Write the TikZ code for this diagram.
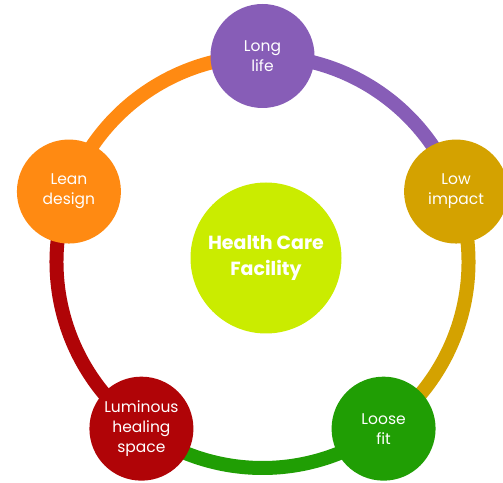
\documentclass[tikz,border=0pt]{standalone}
\usepackage{fontspec}
\setmainfont{Poppins}
\usetikzlibrary{backgrounds}
\definecolor{lifepurple}{HTML}{875DB7}
\definecolor{impactgold}{HTML}{D4A200}
\definecolor{fitgreen}{HTML}{209E04}
\definecolor{spacered}{HTML}{B00407}
\definecolor{leanorange}{HTML}{FF8A12}
\definecolor{hublime}{HTML}{CAEC00}

\begin{document}
\begin{tikzpicture}[x=1pt,y=1pt,
    petal/.style={circle,minimum size=104pt,inner sep=0pt,text=white,align=center,
      font=\fontsize{15.5}{20}\selectfont},
    ring/.style={line width=14pt}]
            \useasboundingbox (0,0) rectangle (503,482);
            \coordinate (C) at (262.5,220);
            \node[circle,fill=hublime,minimum size=151pt,inner sep=0pt,text=white,align=center,
              font=\bfseries\fontsize{19}{26}\selectfont] (hub) at (266,224) {Health Care\\Facility};
            \node[petal,fill=lifepurple] (life) at ([shift={(90:206)}]C) {Long\\life};
            \node[petal,fill=impactgold] (impact) at ([shift={(20:206)}]C) {Low\\impact};
            \node[petal,fill=fitgreen] (fit) at ([shift={(-54:206)}]C) {Loose\\fit};
            \node[petal,fill=spacered] (space) at ([shift={(234:206)}]C) {Luminous\\healing\\space};
            \node[petal,fill=leanorange] (lean) at ([shift={(160:206)}]C) {Lean\\design};
            \begin{scope}[on background layer]
                \draw[ring,lifepurple] (life.center) arc[start angle=90,end angle=20,radius=206];
                \draw[ring,impactgold] (impact.center) arc[start angle=20,end angle=-54,radius=206];
                \draw[ring,fitgreen] (fit.center) arc[start angle=-54,end angle=-126,radius=206];
                \draw[ring,spacered] (space.center) arc[start angle=234,end angle=160,radius=206];
                \draw[ring,leanorange] (lean.center) arc[start angle=160,end angle=90,radius=206];
            \end{scope}
        \end{tikzpicture}
\end{document}
